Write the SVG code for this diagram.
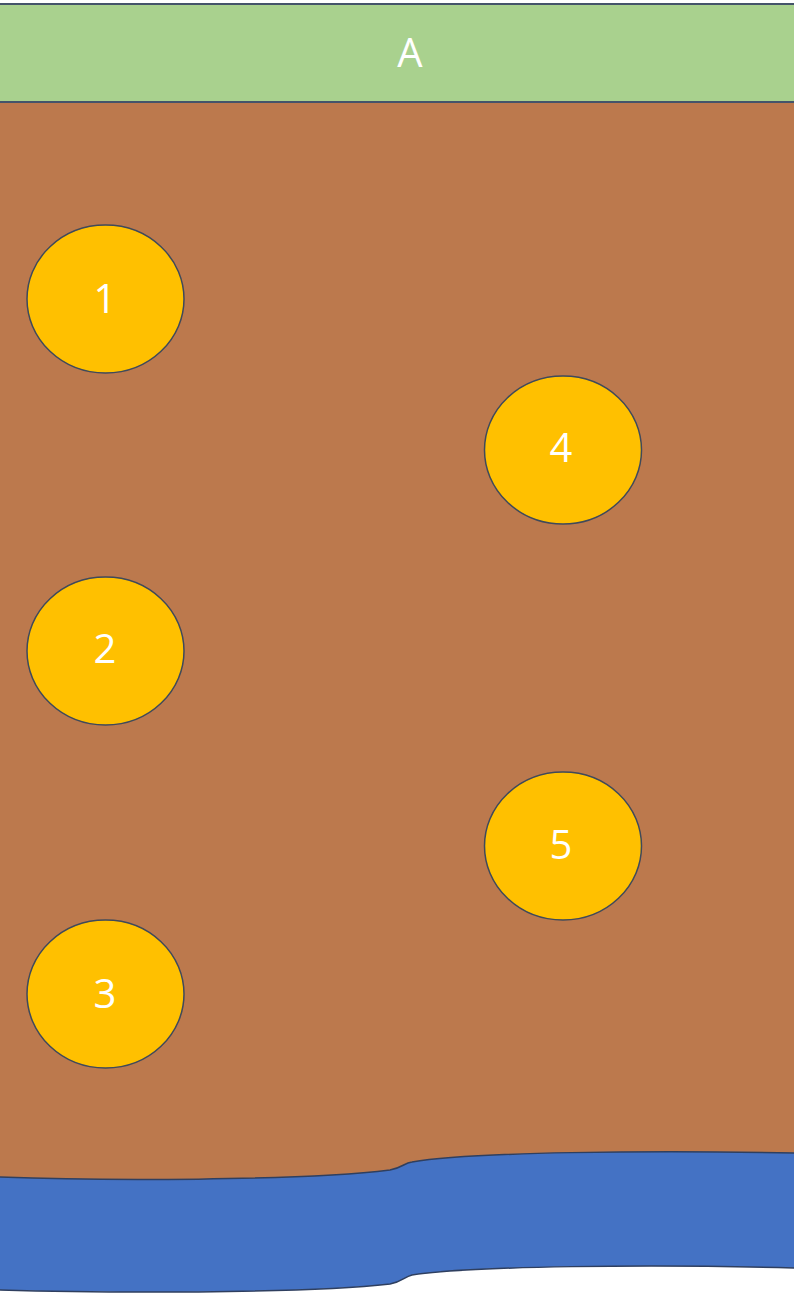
<svg xmlns="http://www.w3.org/2000/svg" width="794" height="1294" viewBox="0 0 794 1294">
<style>
.node ellipse{fill:#FFC000;stroke:#3F4A5A;stroke-width:1.5}
.lbl{fill:#fff;font-family:"Open Sans","Liberation Sans",sans-serif;font-size:40px;text-anchor:middle;dominant-baseline:central}
</style>
<rect x="0" y="0" width="794" height="1294" fill="#fff"/>
<g id="soil">
<rect x="0" y="102" width="794" height="1100" fill="#BC794D"/>
</g>
<g id="water">
<path d="M-3,1177 C100,1181 300,1181 390,1170 C402,1168 404,1163 412,1162 C470,1152 650,1150 797,1153 L797,1268 C650,1264 470,1266 412,1275 C404,1277 402,1282 390,1284 C300,1294 100,1293 -3,1290 Z" fill="#4472C4" stroke="#2F3F5F" stroke-width="1.5"/>
</g>
<g id="A">
<rect x="-2" y="4" width="798" height="98" fill="#A9D18E" stroke="#44546A" stroke-width="2"/>
<text class="lbl" x="410" y="51">A</text>
</g>
<g id="n1" class="node"><ellipse cx="105.5" cy="299" rx="78.5" ry="74"/><text class="lbl" x="105" y="297">1</text></g>
<g id="n2" class="node"><ellipse cx="105.5" cy="651" rx="78.5" ry="74"/><text class="lbl" x="105" y="647">2</text></g>
<g id="n3" class="node"><ellipse cx="105.5" cy="994" rx="78.5" ry="74"/><text class="lbl" x="105" y="992">3</text></g>
<g id="n4" class="node"><ellipse cx="563" cy="450" rx="78.5" ry="74"/><text class="lbl" x="561" y="446">4</text></g>
<g id="n5" class="node"><ellipse cx="563" cy="846" rx="78.5" ry="74"/><text class="lbl" x="561" y="843">5</text></g>
</svg>
